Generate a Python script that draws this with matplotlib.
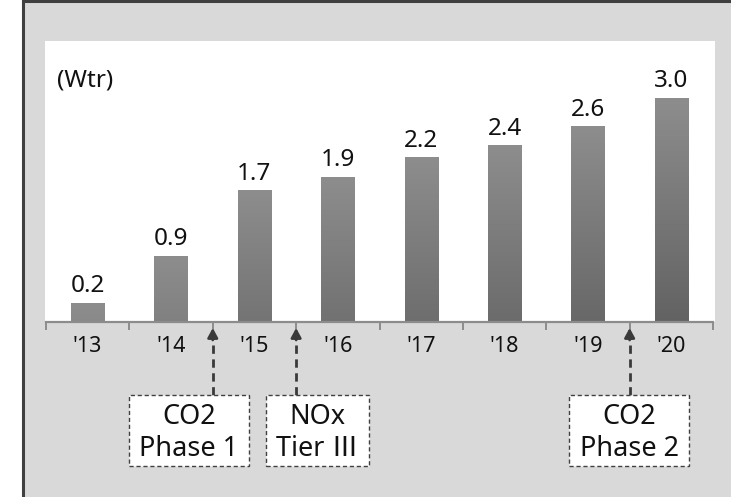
import matplotlib
matplotlib.use("Agg")
import matplotlib.pyplot as plt
import numpy as np
from matplotlib.patches import Rectangle
from matplotlib.transforms import blended_transform_factory

plt.rcParams['font.family'] = ['Noto Sans', 'Noto Sans CJK KR', 'DejaVu Sans']

# ---- data ----
years = ["'13", "'14", "'15", "'16", "'17", "'18", "'19", "'20"]
values = [0.25, 0.88, 1.75, 1.93, 2.19, 2.35, 2.60, 2.98]   # bar heights as read
value_labels = ["0.2", "0.9", "1.7", "1.9", "2.2", "2.4", "2.6", "3.0"]
unit_label = "(Wtr)"
event_positions = [1.5, 2.5, 6.5]   # category boundaries the arrows point to
event_texts = ["CO2\nPhase 1", "NOx\nTier Ⅲ", "CO2\nPhase 2"]

W, H = 731, 497
fig = plt.figure(figsize=(W / 100, H / 100), dpi=100)
fig.patch.set_facecolor('white')

def fx(px):
    return px / W

def fy(py):
    return 1 - py / H

# outer gray panel with dark left/top border
fig.patches.append(Rectangle((fx(23), fy(H + 10)), fx(W + 20 - 23), (H + 10 - 1) / H,
                             transform=fig.transFigure, facecolor='#d9d9d9',
                             edgecolor='#3f3f3f', linewidth=2.2, zorder=-3))
# white plot area
fig.patches.append(Rectangle((fx(45), fy(322)), fx(715 - 45), (322 - 41) / H,
                             transform=fig.transFigure, facecolor='white',
                             edgecolor='none', zorder=-2))

ax = fig.add_axes([fx(46), fy(322), fx(713 - 46), (322 - 41) / H])
ax.set_zorder(1)
ax.set_facecolor('none')
ymax = 281 / 75.0

bar_w = 0.4
px_per_unit = 75.0
for i, v in enumerate(values):
    hpx = v * px_per_unit
    top_c = 0x8d / 255
    bot_c = (0x8d - 0.19 * hpx) / 255
    grad = np.linspace(top_c, bot_c, 100).reshape(-1, 1)
    img = np.repeat(grad[:, :, None], 3, axis=2)
    ax.imshow(img, extent=(i - bar_w / 2, i + bar_w / 2, 0, v), aspect='auto',
              origin='upper', zorder=2, interpolation='bilinear')
    ax.annotate(value_labels[i], (i, v), xytext=(0, 8), textcoords='offset points',
                ha='center', va='baseline', fontsize=17.5, color='#111111')
ax.set_xlim(-0.5, len(years) - 0.5)
ax.set_ylim(0, ymax)

for s in ['top', 'right', 'left']:
    ax.spines[s].set_visible(False)
ax.spines['bottom'].set_color('#8c8c8c')
ax.spines['bottom'].set_linewidth(1.6)
ax.set_yticks([])
ax.set_xticks(np.arange(-0.5, len(years)), minor=False)
ax.set_xticklabels([])
ax.tick_params(axis='x', which='major', length=6, width=1.4, color='#8c8c8c', direction='out')
ax.set_xticks(np.arange(len(years)), minor=True)
ax.set_xticklabels(years, minor=True, fontsize=15.5, color='#111111')
ax.tick_params(axis='x', which='minor', length=0, pad=10)

fig.text(fx(57), fy(80), unit_label, fontsize=17.5, va='center', ha='left', color='#111111')

# event annotations
boxes = [(129, 249), (266, 369), (569, 689)]
trans = blended_transform_factory(ax.transData, fig.transFigure)
for xpos, txt, (bx0, bx1) in zip(event_positions, event_texts, boxes):
    ax.plot([xpos, xpos], [fy(395), fy(336)], transform=trans, color='#3a3a3a',
            lw=2, ls=(0, (3, 2)), clip_on=False, zorder=5)
    ax.annotate('', xy=(xpos, fy(328)), xycoords=trans,
                xytext=(xpos, fy(340)), textcoords=trans,
                arrowprops=dict(arrowstyle='-|>,head_length=0.55,head_width=0.3',
                                color='#3a3a3a', lw=2, shrinkA=0, shrinkB=0),
                annotation_clip=False, zorder=6)
    fig.patches.append(Rectangle((fx(bx0), fy(466)), fx(bx1 - bx0), (466 - 395) / H,
                                 transform=fig.transFigure, facecolor='white',
                                 edgecolor='#404040', linewidth=1, linestyle=(0, (3, 2)),
                                 zorder=3))
    fig.text(fx((bx0 + bx1) / 2), fy(433), txt, ha='center', va='center',
             fontsize=19.5, linespacing=1.2, color='#111111', zorder=4)

fig.savefig('out.png', dpi=100, facecolor=fig.get_facecolor())
